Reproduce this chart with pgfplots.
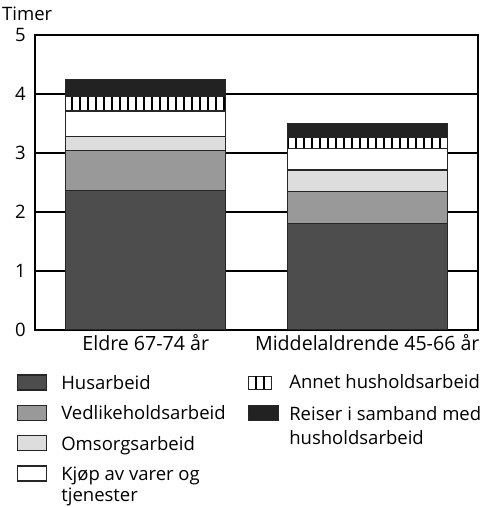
\documentclass[border=0pt]{standalone}
\usepackage{fontspec}
\setmainfont{Open Sans}
\usepackage{pgfplots}
\pgfplotsset{compat=1.18}
\usetikzlibrary{patterns.meta}

\definecolor{husC}{HTML}{4D4D4D}
\definecolor{vedC}{HTML}{999999}
\definecolor{omsC}{HTML}{DDDDDD}
\definecolor{reiC}{HTML}{222222}

\pgfplotsset{
  barborder/.style={draw=black!85, line width=1.3bp},
  swatch/.style={legend image code/.code={\draw[##1] (0bp,-5.5bp) rectangle (29bp,9.5bp);}},
  stripes/.style={fill=white, postaction={pattern={Lines[angle=90,distance=8bp,line width=1.8bp]}, pattern color=black}},
  annetlegend/.style={legend image code/.code={
      \draw[black!85, line width=1.3bp, fill=white] (0bp,-5.5bp) rectangle (23bp,7.5bp);
      \foreach \sx in {7.6,15.3} {\draw[black, line width=1.6bp] (\sx bp,-5.5bp) -- (\sx bp,7.5bp);}
    }},
  reiserlegend/.style={legend image code/.code={
      \draw[black!85, line width=1.3bp, fill=reiC] (0bp,-5.5bp) rectangle (30bp,9.5bp);}},
  legendbase/.style={
    legend cell align=left,
    legend style={anchor=north west, draw=none, fill=none, inner sep=0pt, outer sep=0pt,
      row sep=10.6bp,
      nodes={inner sep=0pt, outer sep=0pt, text height=14.6bp, text depth=4.5bp}},
  },
}

\begin{document}
\begin{tikzpicture}[font=\fontsize{18.5bp}{22bp}\selectfont]
\path[use as bounding box] (0,0) rectangle (499bp,507bp);

\begin{axis}[
  name=main,
  at={(35bp,177bp)}, anchor=south west,
  scale only axis, width=443bp, height=295bp,
  ybar stacked, bar width=160bp,
  xmin=-0.5, xmax=1.5, ymin=0, ymax=5,
  xtick={0,1}, xticklabels={Eldre 67-74 år, Middelaldrende 45-66 år},
  ytick={0,1,2,3,4,5},
  major tick length=0pt,
  axis line style={line width=2.5bp, black},
  ymajorgrids, grid style={black, line width=2bp},
  /pgf/number format/assume math mode=true,
  xticklabel style={font=\fontsize{19.6bp}{23bp}\selectfont, inner sep=0pt, text height=14.6bp, yshift=-5.5bp},
  yticklabel style={inner sep=0pt, xshift=-9bp},
  legendbase,
  legend style={at={(-0.0406,-0.1505)}, column sep=14bp},
]
% hours per day, stacked by type of household work
\addplot[barborder, fill=husC, swatch] coordinates {(0,2.37) (1,1.81)};
\addlegendentry{Husarbeid}
\addplot[barborder, fill=vedC, swatch] coordinates {(0,0.67) (1,0.54)};
\addlegendentry{Vedlikeholdsarbeid}
\addplot[barborder, fill=omsC, swatch] coordinates {(0,0.24) (1,0.36)};
\addlegendentry{Omsorgsarbeid}
\addplot[barborder, fill=white, swatch] coordinates {(0,0.43) (1,0.37)};
\addlegendentry{Kjøp av varer og}
\addlegendimage{empty legend}
\addlegendentry[text height=6bp]{tjenester}
\addplot[barborder, stripes, forget plot] coordinates {(0,0.25) (1,0.18)};
\addplot[barborder, fill=reiC, forget plot] coordinates {(0,0.28) (1,0.24)};
\end{axis}

% second legend column
\begin{axis}[
  at={(35bp,177bp)}, anchor=south west,
  scale only axis, width=443bp, height=295bp,
  xmin=0, xmax=1, ymin=0, ymax=1, hide axis,
  legendbase,
  legend style={at={(0.4808,-0.1505)}, column sep=10bp, row sep=11.6bp},
]
\addlegendimage{annetlegend}
\addlegendentry{Annet husholdsarbeid}
\addlegendimage{reiserlegend}
\addlegendentry{Reiser i samband med}
\addlegendimage{empty legend}
\addlegendentry[text height=8.2bp]{husholdsarbeid}
\end{axis}

\node[anchor=base west, inner sep=0pt] at ([xshift=-33bp,yshift=14bp]main.north west) {Timer};
\end{tikzpicture}
\end{document}
